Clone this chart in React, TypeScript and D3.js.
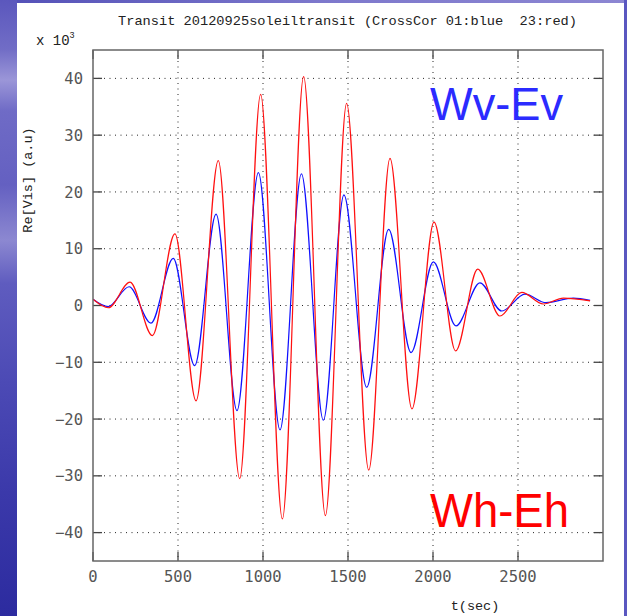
import React from "react";
import * as d3 from "d3";

// Cross-correlation visibility traces: extrema read as (time, value) pairs, values in units of 10^3
const redTimes = [0, 90, 218, 349, 482, 606, 737, 863, 986, 1114, 1239, 1367, 1492, 1622, 1747, 1876, 2006, 2133, 2263, 2394, 2522, 2649, 2767, 2924];
const redValues = [1.1, -0.4, 4.1, -5.3, 12.6, -16.8, 25.5, -30.5, 37.2, -37.6, 40.3, -37.0, 35.6, -29.0, 25.9, -18.2, 14.7, -8.0, 6.4, -1.85, 2.3, 0.26, 1.3, 0.8];
const blueTimes = [0, 90, 212, 341, 472, 598, 724, 847, 973, 1100, 1226, 1355, 1476, 1610, 1739, 1871, 2002, 2135, 2276, 2404, 2541, 2665, 2825, 2924];
const blueValues = [1.1, -0.2, 3.3, -3.1, 8.3, -10.6, 16.1, -18.5, 23.4, -21.9, 23.2, -20.2, 19.5, -14.4, 13.4, -8.3, 7.7, -3.6, 4.0, -0.97, 2.0, 0.5, 1.3, 0.9];

const xTicks = [0, 500, 1000, 1500, 2000, 2500];
const yTicks = [-40, -30, -20, -10, 0, 10, 20, 30, 40];

const title = "Transit 20120925soleiltransit (CrossCor 01:blue  23:red)";
const yLabel = "Re[Vis] (a.u)";
const xLabel = "t(sec)";
const blueTag = "Wv-Ev";
const redTag = "Wh-Eh";

const W = 627;
const H = 616;
const plot = { left: 93, right: 603, top: 50, bottom: 561 };

export default function App() {
  const x = d3.scaleLinear().domain([0, 3000]).range([plot.left, plot.right]);
  const y = d3.scaleLinear().domain([-45, 45]).range([plot.bottom, plot.top]);

  const line = d3
    .line<[number, number]>()
    .x((d) => x(d[0]))
    .y((d) => y(d[1]))
    .curve(d3.curveMonotoneX);

  const redPath = line(redTimes.map((t, i) => [t, redValues[i]]) as [number, number][]) || "";
  const bluePath = line(blueTimes.map((t, i) => [t, blueValues[i]]) as [number, number][]) || "";

  const mono = "'Liberation Mono', 'DejaVu Sans Mono', monospace";
  const tickFont = "'DejaVu Sans Mono', monospace";
  const tickLen = 9;

  return (
    <svg
      width={W}
      height={H}
      viewBox={`0 0 ${W} ${H}`}
      style={{ position: "absolute", left: 0, top: 0, display: "block" }}
    >
      <defs>
        <linearGradient id="edge" x1="0" y1="0" x2="0" y2="1">
          <stop offset="0" stopColor="#5b57bd" />
          <stop offset="0.08" stopColor="#716dc6" />
          <stop offset="0.13" stopColor="#9b96d8" />
          <stop offset="0.18" stopColor="#6f6bc6" />
          <stop offset="0.3" stopColor="#6460c1" />
          <stop offset="0.39" stopColor="#8c88d1" />
          <stop offset="0.46" stopColor="#5f5cbf" />
          <stop offset="0.62" stopColor="#4c4ab5" />
          <stop offset="0.8" stopColor="#3b39aa" />
          <stop offset="1" stopColor="#2c2b9f" />
        </linearGradient>
        <linearGradient id="topEdge" x1="0" y1="0" x2="1" y2="0">
          <stop offset="0" stopColor="#5552b8" />
          <stop offset="0.5" stopColor="#7d78cc" />
          <stop offset="1" stopColor="#8c86d2" />
        </linearGradient>
        <clipPath id="plotClip">
          <rect x={plot.left} y={plot.top} width={plot.right - plot.left} height={plot.bottom - plot.top} />
        </clipPath>
      </defs>

      {/* slide background */}
      <rect x={0} y={0} width={W} height={H} fill="url(#edge)" />
      <rect x={17} y={0} width={W - 17} height={3} fill="url(#topEdge)" />
      <rect x={624} y={0} width={3} height={H} fill="#5a57c0" />
      <rect x={17} y={3} width={607} height={H - 3} fill="#ffffff" />

      {/* dotted grid */}
      <g stroke="#000" strokeWidth={1} strokeDasharray="1,4.5" opacity={0.85}>
        {xTicks
          .filter((t) => t > 0)
          .map((t) => (
            <line key={`gx${t}`} x1={x(t)} x2={x(t)} y1={plot.top} y2={plot.bottom} />
          ))}
        {yTicks.map((t) => (
          <line key={`gy${t}`} x1={plot.left} x2={plot.right} y1={y(t)} y2={y(t)} />
        ))}
      </g>

      {/* tick marks */}
      <g stroke="#444" strokeWidth={1.3}>
        {yTicks.map((t) => (
          <g key={`ty${t}`}>
            <line x1={plot.left} x2={plot.left + tickLen} y1={y(t)} y2={y(t)} />
            <line x1={plot.right - tickLen} x2={plot.right} y1={y(t)} y2={y(t)} />
          </g>
        ))}
        {xTicks.map((t) => (
          <g key={`tx${t}`}>
            <line x1={x(t)} x2={x(t)} y1={plot.top} y2={plot.top + tickLen} />
            <line x1={x(t)} x2={x(t)} y1={plot.bottom - tickLen} y2={plot.bottom} />
          </g>
        ))}
      </g>

      {/* traces */}
      <g clipPath="url(#plotClip)" fill="none" strokeWidth={1.2} strokeLinejoin="round">
        <path d={bluePath} stroke="#1010ff" />
        <path d={redPath} stroke="#ff1010" />
      </g>

      {/* frame */}
      <rect
        x={plot.left}
        y={plot.top}
        width={plot.right - plot.left}
        height={plot.bottom - plot.top}
        fill="none"
        stroke="#666"
        strokeWidth={1.5}
      />

      {/* tick labels */}
      <g fontFamily={tickFont} fontSize={15.5} fill="#555" fontWeight={300}>
        {yTicks.map((t) => (
          <text key={`ly${t}`} x={83} y={y(t)} dy="0.36em" textAnchor="end">
            {t < 0 ? `\u2212${Math.abs(t)}` : `${t}`}
          </text>
        ))}
        {xTicks.map((t) => (
          <text key={`lx${t}`} x={x(t)} y={582} textAnchor="middle">
            {t}
          </text>
        ))}
      </g>

      {/* titles */}
      <text
        x={118}
        y={25}
        fontFamily={mono}
        fontSize={13.5}
        fill="#222"
        textLength={459}
        lengthAdjust="spacingAndGlyphs"
        style={{ whiteSpace: "pre" }}
      >
        {title}
      </text>
      <text x={36} y={45} fontFamily={mono} fontSize={14} fill="#222" style={{ whiteSpace: "pre" }}>
        x 10
        <tspan fontSize={8.5} dy={-7}>
          3
        </tspan>
      </text>
      <text
        transform="translate(32,180) rotate(-90)"
        fontFamily={mono}
        fontSize={13.5}
        fill="#222"
        textAnchor="middle"
      >
        {yLabel}
      </text>
      <text x={475} y={610} fontFamily={mono} fontSize={13.5} fill="#222" textAnchor="middle">
        {xLabel}
      </text>

      {/* baseline tags */}
      <text x={430} y={120} fontFamily="'Liberation Sans', Arial, sans-serif" fontSize={47} fill="#2b2bff" textLength={133} lengthAdjust="spacingAndGlyphs">
        {blueTag}
      </text>
      <text x={430} y={527} fontFamily="'Liberation Sans', Arial, sans-serif" fontSize={49} fill="#ff0000" textLength={139} lengthAdjust="spacingAndGlyphs">
        {redTag}
      </text>
    </svg>
  );
}
